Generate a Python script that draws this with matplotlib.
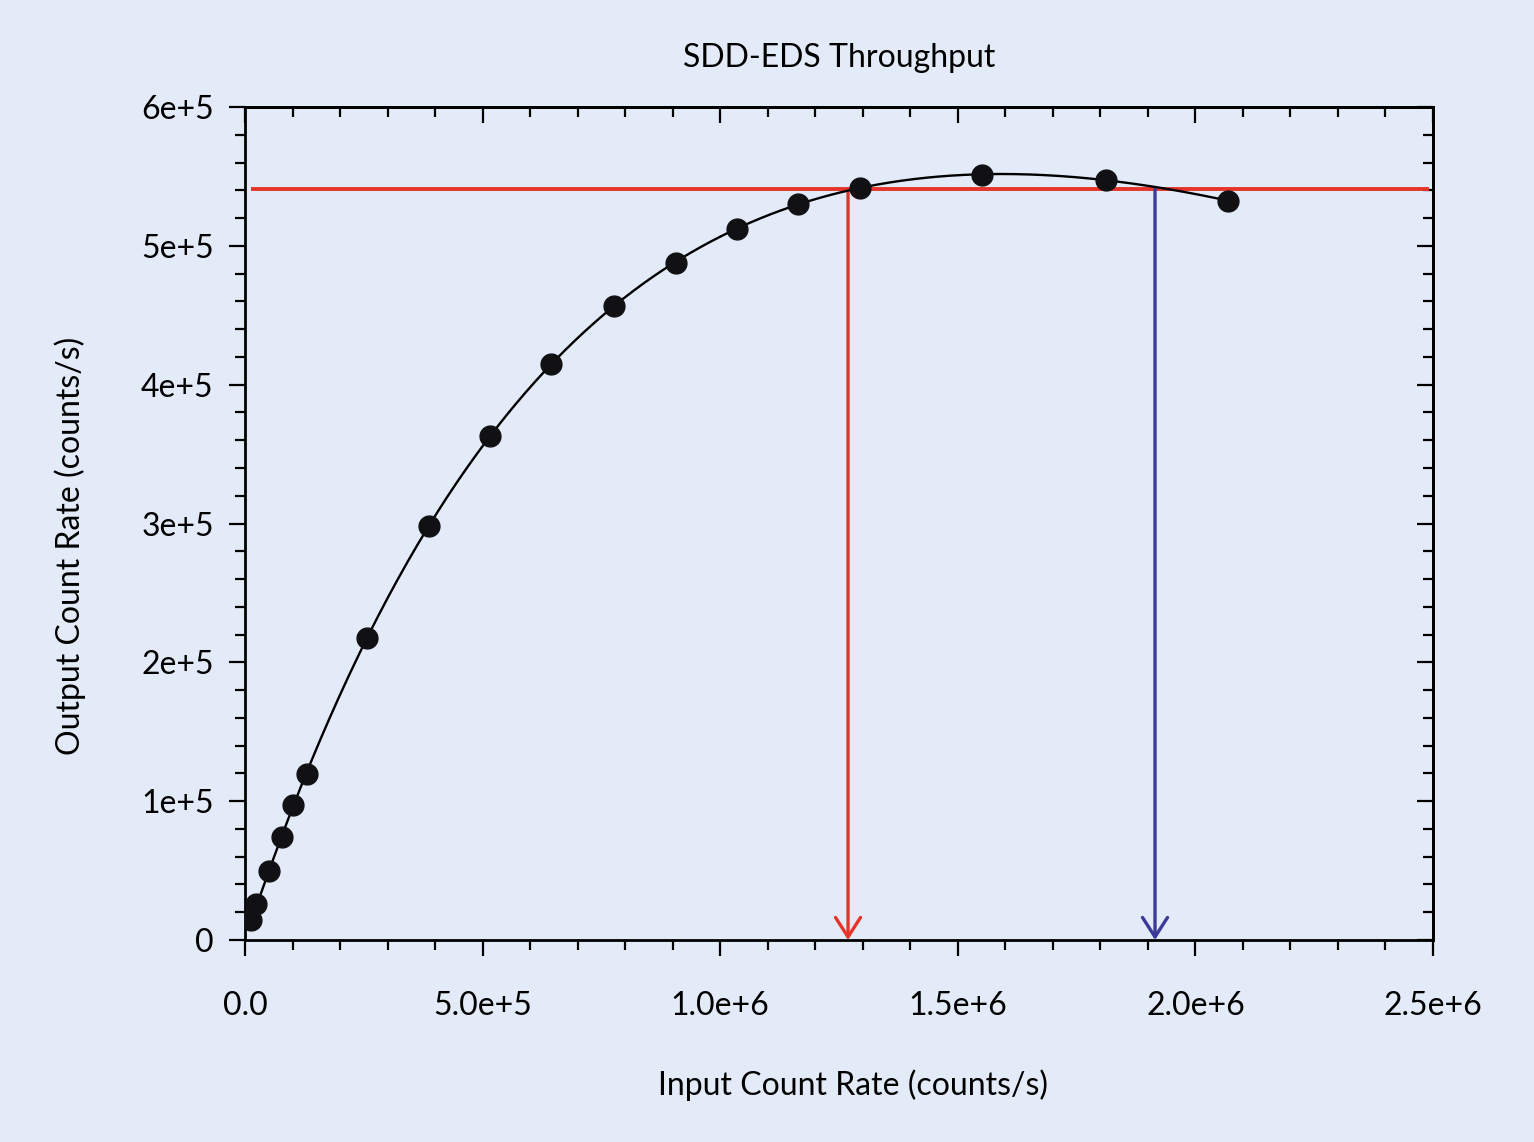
import numpy as np
import matplotlib
matplotlib.use('Agg')
import matplotlib.pyplot as plt
from matplotlib.ticker import MultipleLocator

plt.rcParams['font.family'] = ['Lato', 'DejaVu Sans']

# measured points (input rate, output rate), counts/s
icr = [12600, 23100, 50500, 77900, 101000, 130500, 256700, 387200, 515600,
       643900, 776500, 907000, 1035400, 1163700, 1294200, 1551000, 1811900, 2068600]
ocr = [14400, 25900, 49700, 74200, 97300, 119600, 217600, 298300, 363100,
       415000, 456800, 487800, 512200, 530300, 541800, 551200, 547600, 532400]

level = 541000          # output rate of the horizontal marker
drop_red = 1.269e6      # where the curve crosses the level (rising side)
drop_blue = 1.915e6     # falling side
level_span = [12600, 2.4916e6]

xticks = [0, 5e5, 1e6, 1.5e6, 2e6, 2.5e6]
xlabels = ['0.0', '5.0e+5', '1.0e+6', '1.5e+6', '2.0e+6', '2.5e+6']
yticks = [0, 1e5, 2e5, 3e5, 4e5, 5e5, 6e5]
ylabels = ['0', '1e+5', '2e+5', '3e+5', '4e+5', '5e+5', '6e+5']

bg = '#e3eaf8'
red = '#e5352b'
blue = '#3a3a98'
fs = 23

x = np.array(icr, dtype=float)
y = np.array(ocr, dtype=float)
# smooth fit: log(ocr/icr) as a polynomial in icr, weighted toward the high counts
coef = np.polyfit(x, np.log(y / x), 3, w=y)
xs = np.linspace(x.min(), x.max(), 400)
ys = xs * np.exp(np.polyval(coef, xs))

fig = plt.figure(figsize=(15.34, 11.42), dpi=100, facecolor=bg)
ax = fig.add_axes([245 / 1534, 1 - 940 / 1142, (1433 - 245) / 1534, (940 - 107) / 1142])
ax.set_facecolor(bg)

ax.hlines(level, level_span[0], level_span[1], color=red, lw=2.8, zorder=2)
for xd, c in [(drop_red, red), (drop_blue, blue)]:
    ax.annotate('', xy=(xd, 0), xytext=(xd, level),
                arrowprops=dict(arrowstyle='->,head_length=0.7,head_width=0.45',
                                color=c, lw=2.4, shrinkA=0, shrinkB=0,
                                mutation_scale=20), zorder=3)

ax.plot(xs, ys, color='black', lw=1.7, zorder=4)
ax.plot(icr, ocr, 'o', color='#111114', ms=15, zorder=5)

ax.set_xlim(0, 2.5e6)
ax.set_ylim(0, 6e5)
ax.set_xticks(xticks, xlabels)
ax.set_yticks(yticks, ylabels)
ax.xaxis.set_minor_locator(MultipleLocator(1e5))
ax.yaxis.set_minor_locator(MultipleLocator(2e4))

for s in ax.spines.values():
    s.set_linewidth(2.0)

ax.tick_params(which='both', direction='out', width=1.6, labelsize=fs)
ax.tick_params(which='major', length=11.5)
ax.tick_params(which='minor', length=7)
ax.tick_params(axis='x', which='major', pad=25)
ax.tick_params(axis='y', which='major', pad=11)

# top and right ticks point inward
ax2 = ax.secondary_xaxis('top')
ax2.set_xticks(xticks)
ax2.xaxis.set_minor_locator(MultipleLocator(1e5))
ax2.tick_params(which='both', direction='in', width=1.6, labeltop=False)
ax2.tick_params(which='major', length=11.5)
ax2.tick_params(which='minor', length=7)
ax3 = ax.secondary_yaxis('right')
ax3.set_yticks(yticks)
ax3.yaxis.set_minor_locator(MultipleLocator(2e4))
ax3.tick_params(which='both', direction='in', width=1.6, labelright=False)
ax3.tick_params(which='major', length=11.5)
ax3.tick_params(which='minor', length=7)
for a in (ax2, ax3):
    for s in a.spines.values():
        s.set_linewidth(2.0)

# labels and title placed in figure coords
fig.text(853 / 1534, 1 - 1085 / 1142, 'Input Count Rate (counts/s)', fontsize=fs,
         ha='center', va='center')
fig.text(70 / 1534, 1 - 546 / 1142, 'Output Count Rate (counts/s)', fontsize=fs,
         ha='center', va='center', rotation=90)
fig.text(839 / 1534, 1 - 58 / 1142, 'SDD-EDS Throughput', fontsize=fs,
         ha='center', va='center')

fig.savefig('out.png', dpi=100, facecolor=bg)
